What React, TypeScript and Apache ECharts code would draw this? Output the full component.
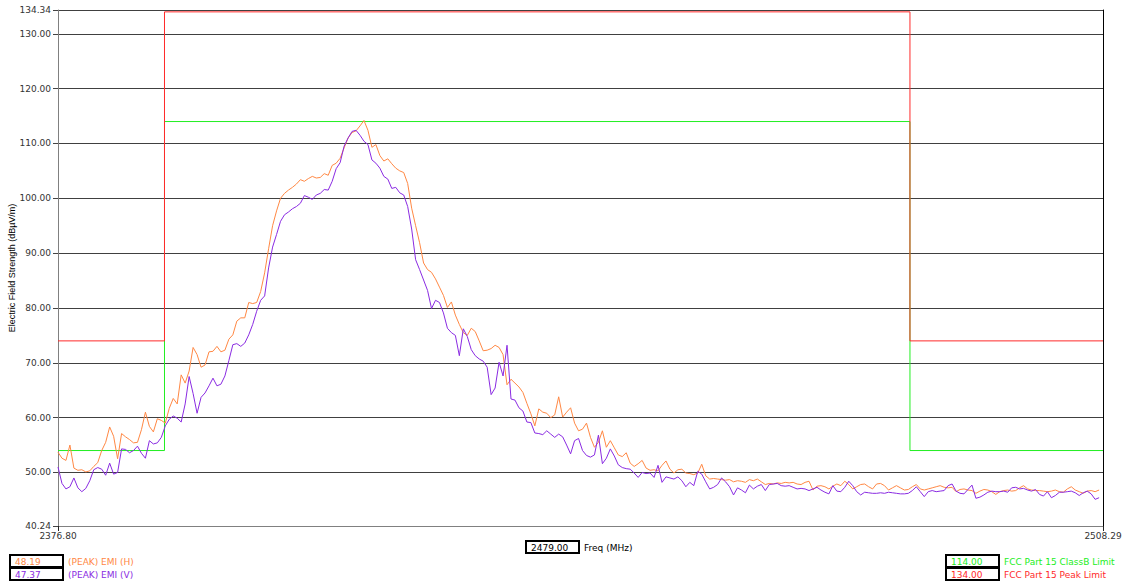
import React, { useEffect, useRef } from "react";
import * as echarts from "echarts";

// Sweep definition
const FREQ_START = 2376.8;
const FREQ_STEP = 0.5;
const X_MIN = 2376.8;
const X_MAX = 2508.29;
const Y_MIN = 40.24;
const Y_MAX = 134.34;
const Y_TICKS = [40.24, 50, 60, 70, 80, 90, 100, 110, 120, 130, 134.34];
const X_TICKS = [2376.8, 2508.29];

// (PEAK) EMI (H)
const EMI_H = [
  53.7, 52.6, 52.2, 55.0, 50.8, 50.4, 50.5, 50.1, 50.3, 51.1,
  51.8, 54.0, 55.5, 58.3, 56.6, 52.5, 57.1, 56.5, 56.0, 55.4,
  55.5, 57.8, 61.0, 58.4, 57.4, 59.8, 59.5, 59.0, 61.7, 63.5,
  62.5, 67.8, 66.3, 68.5, 72.8, 71.5, 69.2, 69.6, 72.0, 72.1,
  73.0, 72.0, 72.3, 74.3, 75.1, 77.6, 78.2, 78.2, 81.0, 80.8,
  81.0, 83.0, 86.4, 90.8, 95.0, 97.7, 100.0, 100.9, 101.5, 102.0,
  102.6, 103.4, 103.1, 103.6, 104.0, 103.7, 103.8, 104.5, 104.2, 106.0,
  106.4, 107.3, 109.2, 111.0, 112.0, 112.3, 113.2, 114.2, 112.4, 109.3,
  109.8, 107.8, 106.8, 107.2, 106.3, 105.5, 105.0, 104.7, 102.7, 98.2,
  95.0, 91.9, 88.2, 87.0, 86.5, 85.3, 83.8, 82.3, 80.1, 81.1,
  78.7, 77.0, 75.5, 75.0, 76.3, 75.7, 74.0, 72.2, 72.3, 72.6,
  73.2, 72.8, 71.5, 66.0, 67.0, 66.3, 65.6, 64.6, 62.6, 60.7,
  58.5, 61.6, 61.0, 60.8, 60.0, 60.5, 63.8, 60.1, 61.0, 61.8,
  59.0, 57.6, 57.9, 59.0, 56.4, 54.6, 55.5, 57.6, 54.6, 55.8,
  54.5, 53.2, 52.9, 53.6, 51.7, 51.1, 51.6, 52.2, 50.8, 50.4,
  50.5, 50.3, 51.3, 52.1, 50.6, 49.9, 50.5, 50.6, 49.9, 49.8,
  49.6, 49.9, 51.5, 49.4, 48.8, 48.9, 48.8, 48.7, 48.6, 48.7,
  48.3, 48.5, 48.4, 48.2, 48.7, 48.5, 48.8, 48.3, 47.8, 48.0,
  47.9, 48.1, 48.0, 48.2, 48.1, 48.2, 47.9, 47.8, 48.2, 48.4,
  46.8, 47.5, 47.6, 47.4, 47.0, 47.5, 47.9, 47.6, 48.4, 47.8,
  47.0, 47.4, 47.8, 47.9, 47.4, 47.0, 47.9, 48.0, 47.6, 46.8,
  47.2, 47.6, 47.2, 46.8, 46.9, 47.4, 47.8, 47.0, 46.8, 47.0,
  47.2, 47.4, 47.6, 47.3, 47.2, 47.3, 46.5, 46.9, 47.0, 46.8,
  46.7, 46.2, 46.6, 46.9, 46.8, 46.5, 46.0, 46.5, 46.7, 46.8,
  46.6, 46.7, 47.2, 47.6, 47.0, 46.8, 46.7, 46.7, 46.6, 46.5,
  46.6, 46.8, 46.5, 46.4, 47.0, 47.4, 46.8, 46.5, 46.2, 46.6,
  46.7, 46.5, 46.8,
];

// (PEAK) EMI (V)
const EMI_V = [
  51.0, 48.0, 47.0, 47.4, 49.0, 47.2, 46.5, 47.1, 48.5, 50.5,
  50.9, 50.6, 49.5, 51.7, 49.7, 50.0, 54.3, 54.2, 53.6, 54.0,
  54.8, 53.5, 52.6, 55.8, 55.2, 55.4, 56.4, 58.5, 59.7, 60.3,
  59.9, 59.2, 62.5, 67.5, 64.4, 60.8, 63.7, 64.5, 65.8, 67.2,
  65.8, 66.1, 67.6, 70.4, 73.3, 73.5, 73.0, 73.6, 75.1, 77.0,
  79.4, 81.4, 82.2, 87.3, 91.1, 93.4, 95.8, 97.0, 97.5, 98.1,
  98.5, 99.1, 100.5, 100.2, 99.8, 100.6, 100.9, 101.6, 101.5, 103.1,
  105.4, 106.5, 109.5, 111.0, 112.2, 112.4, 111.5, 110.4, 109.8, 107.0,
  106.4, 105.5, 104.0, 103.5, 101.8, 102.0, 101.0, 100.6, 98.5, 94.4,
  88.8, 87.0, 85.1, 83.2, 79.9, 81.4, 81.0, 79.1, 76.3, 75.5,
  75.0, 71.3, 76.2, 74.8, 72.4, 71.3, 70.7, 70.3, 69.2, 64.2,
  65.4, 70.1, 67.6, 73.2, 63.4, 63.2, 61.8, 61.2, 59.2, 59.1,
  57.2, 57.1, 56.9, 57.6, 57.0, 56.4, 57.0, 56.5, 55.0, 53.4,
  55.8, 56.2, 54.0, 53.1, 52.8, 53.2, 56.8, 51.6, 52.6, 54.3,
  53.0, 51.4, 50.9, 50.7, 50.6, 49.9, 49.1, 50.0, 49.8, 49.9,
  49.1, 51.3, 48.2, 49.2, 49.0, 48.8, 49.2, 48.5, 47.4, 48.2,
  47.6, 50.2, 49.7, 48.3, 47.0, 47.3, 47.8, 49.0, 48.3, 47.4,
  45.9, 47.2, 46.8, 46.3, 47.7, 47.0, 47.5, 47.8, 46.7, 47.8,
  47.9, 48.0, 47.6, 47.5, 47.6, 47.3, 47.0, 47.1, 47.0, 46.7,
  47.0, 47.3, 46.8, 46.4, 46.1, 47.6, 46.6, 46.5, 47.3, 48.4,
  47.6, 46.5, 45.9, 46.4, 46.3, 46.2, 46.2, 46.3, 46.2, 46.4,
  46.3, 46.2, 46.1, 46.1, 46.2, 46.7, 47.4, 46.5, 45.6, 46.5,
  46.7, 46.5, 46.6, 46.7, 47.6, 47.9, 46.6, 46.2, 46.1, 46.9,
  47.7, 45.3, 45.5, 45.9, 46.4, 46.6, 46.5, 46.5, 46.6, 46.4,
  47.2, 47.3, 47.0, 47.1, 46.8, 46.6, 46.9, 46.0, 45.7, 46.5,
  45.4, 45.8, 46.4, 46.4, 46.5, 46.6, 46.3, 45.8, 46.3, 46.6,
  46.1, 45.1, 45.4,
];

// Limit lines (step shape)
const LIMIT_FREQ = [2376.8, 2390.2, 2390.2, 2484.0, 2484.0, 2508.29];
const CLASSB_LIMIT = [54, 54, 114, 114, 54, 54];
const PEAK_LIMIT = [74, 74, 134, 134, 74, 74];

// Marker readout
const MARKER_FREQ = "2479.00";
const MARKER_H = "48.19";
const MARKER_V = "47.37";
const LIMIT_CLASSB_VAL = "114.00";
const LIMIT_PEAK_VAL = "134.00";

const C_H = "#FF8844";
const C_V = "#8A2BE2";
const C_GREEN = "#22EE22";
const C_RED = "#FF2A2A";
const FONT = "'DejaVu Sans', sans-serif";

function toPairs(vals: number[]) {
  return vals.map((v, i) => [+(FREQ_START + FREQ_STEP * i).toFixed(2), v]);
}
function limitPairs(vals: number[]) {
  return vals.map((v, i) => [LIMIT_FREQ[i], v]);
}

function legendBox(x: number, y: number, w: number, h: number, value: string, color: string, label: string, labelColor: string) {
  return [
    {
      type: "rect",
      shape: { x, y, width: w, height: h },
      style: { fill: "#fff", stroke: "#000", lineWidth: 2 },
      silent: true,
    },
    {
      type: "text",
      x: x + 5,
      y: y + h / 2 + 0.5,
      style: { text: value, fill: color, font: `9px ${FONT}`, textVerticalAlign: "middle", verticalAlign: "middle" },
      silent: true,
    },
    {
      type: "text",
      x: x + w + 5,
      y: y + h / 2 + 0.5,
      style: { text: label, fill: labelColor, font: `9px ${FONT}`, textVerticalAlign: "middle", verticalAlign: "middle" },
      silent: true,
    },
  ];
}

export default function App() {
  const ref = useRef<HTMLDivElement>(null);
  useEffect(() => {
    if (!ref.current) return;
    const chart = echarts.init(ref.current, null, { renderer: "svg" });
    const fmt = (v: number) => Number(v).toFixed(2);
    chart.setOption({
      animation: false,
      backgroundColor: "#fff",
      grid: { left: 58, right: 23, top: 10, bottom: 56, containLabel: false, outerBoundsMode: "none" },
      xAxis: {
        type: "value",
        min: X_MIN,
        max: X_MAX,
        axisLine: { show: true, lineStyle: { color: "#808080", width: 1 } },
        axisTick: { show: true, length: 5, customValues: X_TICKS, lineStyle: { color: "#222" } },
        axisLabel: { customValues: X_TICKS, formatter: fmt, color: "#333", fontSize: 9, fontFamily: FONT, margin: 5 },
        splitLine: { show: false },
      },
      yAxis: [
        {
          type: "value",
          min: Y_MIN,
          max: Y_MAX,
          position: "left",
          name: "Electric Field Strength (dBµV/m)",
          nameLocation: "middle",
          nameGap: 42,
          nameMoveOverlap: false,
          nameRotate: 90,
          nameTextStyle: { color: "#000", fontSize: 9, fontFamily: "'Liberation Sans', sans-serif" },
          axisLine: { show: true, lineStyle: { color: "#808080", width: 1 } },
          axisTick: { show: true, length: 5, customValues: Y_TICKS, lineStyle: { color: "#444" } },
          axisLabel: { customValues: Y_TICKS, formatter: fmt, color: "#333", fontSize: 9, fontFamily: FONT, margin: 7 },
          splitLine: { show: true, lineStyle: { color: "#404040", width: 1 } },
        },
        {
          type: "value",
          min: Y_MIN,
          max: Y_MAX,
          position: "right",
          axisLine: { show: true, lineStyle: { color: "#000", width: 1 } },
          axisTick: { show: false },
          axisLabel: { show: false },
          splitLine: { show: false },
        },
      ],
      series: [
        {
          name: "FCC Part 15 ClassB Limit",
          type: "line",
          data: limitPairs(CLASSB_LIMIT),
          showSymbol: false,
          lineStyle: { color: C_GREEN, width: 1 },
          z: 2,
        },
        {
          name: "FCC Part 15 Peak Limit",
          type: "line",
          data: limitPairs(PEAK_LIMIT),
          showSymbol: false,
          lineStyle: { color: C_RED, width: 1 },
          z: 3,
        },
        {
          name: "(PEAK) EMI (H)",
          type: "line",
          data: toPairs(EMI_H),
          showSymbol: false,
          lineStyle: { color: C_H, width: 1 },
          z: 4,
        },
        {
          name: "(PEAK) EMI (V)",
          type: "line",
          data: toPairs(EMI_V),
          showSymbol: false,
          lineStyle: { color: C_V, width: 1 },
          z: 5,
        },
      ],
      graphic: [
        ...legendBox(10, 555, 53, 12, MARKER_H, C_H, "(PEAK) EMI (H)", C_H),
        ...legendBox(10, 568, 53, 12, MARKER_V, C_V, "(PEAK) EMI (V)", C_V),
        ...legendBox(526, 541, 53, 12, MARKER_FREQ, "#000", "Freq (MHz)", "#000"),
        ...legendBox(946, 555, 53, 12, LIMIT_CLASSB_VAL, C_GREEN, "FCC Part 15 ClassB Limit", C_GREEN),
        ...legendBox(946, 568, 53, 12, LIMIT_PEAK_VAL, C_RED, "FCC Part 15 Peak Limit", C_RED),
      ],
    });
    return () => chart.dispose();
  }, []);
  return (
    <div
      ref={ref}
      style={{ position: "fixed", left: 0, top: 0, width: 1126, height: 582, background: "#fff" }}
    />
  );
}
